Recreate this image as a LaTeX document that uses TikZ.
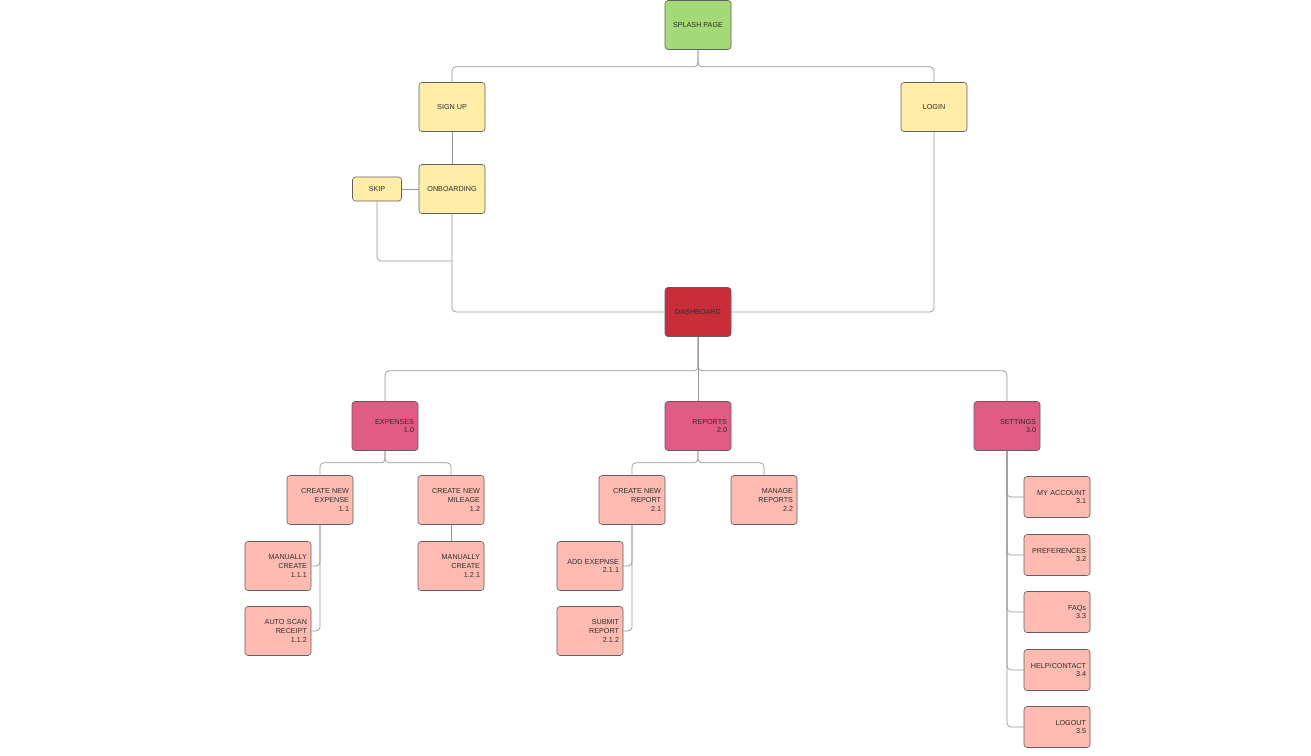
\documentclass[tikz,border=0pt]{standalone}
\usepackage{fontspec}
\setmainfont{Liberation Sans}
\usetikzlibrary{calc}
\definecolor{splashgreen}{RGB}{163,217,119}
\definecolor{pageyellow}{RGB}{255,237,168}
\definecolor{dashred}{RGB}{201,45,57}
\definecolor{sectionpink}{RGB}{224,92,132}
\definecolor{itemsalmon}{RGB}{255,187,177}
\definecolor{boxline}{RGB}{95,95,95}
\definecolor{linkgray}{RGB}{150,150,150}
\definecolor{labeltext}{RGB}{45,45,45}

\tikzset{
  box/.style={draw=boxline, line width=0.6pt, rounded corners=3pt,
              minimum width=66pt, minimum height=49pt, inner sep=0pt,
              text=labeltext, font=\fontsize{7.2}{8.7}\selectfont},
  pagebox/.style={box, fill=pageyellow, align=center},
  listbox/.style={box, text width=58pt, align=right},
  sectionbox/.style={listbox, fill=sectionpink},
  itembox/.style={listbox, fill=itemsalmon},
  settingbox/.style={itembox, minimum height=41pt},
  link/.style={draw=linkgray, line width=0.7pt, rounded corners=4pt}
}

\begin{document}
\begin{tikzpicture}[x=1pt, y=-1pt]
  \useasboundingbox (0,0) rectangle (1311,755);

  % entry pages
  \node[box, fill=splashgreen, align=center] (splash) at (698,25) {SPLASH PAGE};
  \node[pagebox] (signup) at (452,107) {SIGN UP};
  \node[pagebox] (login) at (934,107) {LOGIN};
  \node[pagebox] (onboard) at (452,189) {ONBOARDING};
  \node[pagebox, minimum width=49pt, minimum height=24pt] (skip) at (377,189) {SKIP};
  \node[box, fill=dashred, align=center] (dash) at (698,312) {DASHBOARD};
  \coordinate (skipjoin) at (452,261);

  % sections
  \node[sectionbox] (expenses) at (385,426) {EXPENSES\\1.0};
  \node[sectionbox] (reports) at (698,426) {REPORTS\\2.0};
  \node[sectionbox] (settings) at (1007,426) {SETTINGS\\3.0};

  % expenses
  \node[itembox] (newexp) at (320,500) {CREATE NEW\\EXPENSE\\1.1};
  \node[itembox] (newmil) at (451,500) {CREATE NEW\\MILEAGE\\1.2};
  \node[itembox] (manexp) at (278,566) {MANUALLY\\CREATE\\1.1.1};
  \node[itembox] (scanexp) at (278,631) {AUTO SCAN\\RECEIPT\\1.1.2};
  \node[itembox] (manmil) at (451,566) {MANUALLY\\CREATE\\1.2.1};

  % reports
  \node[itembox] (newrep) at (632,500) {CREATE NEW\\REPORT\\2.1};
  \node[itembox] (managerep) at (764,500) {MANAGE\\REPORTS\\2.2};
  \node[itembox] (addexp) at (590,566) {ADD EXEPNSE\\2.1.1};
  \node[itembox] (submitrep) at (590,631) {SUBMIT\\REPORT\\2.1.2};

  % settings
  \node[settingbox] (account) at (1057,497) {MY ACCOUNT\\3.1};
  \node[settingbox] (prefs) at (1057,555) {PREFERENCES\\3.2};
  \node[settingbox] (faqs) at (1057,612) {FAQs\\3.3};
  \node[settingbox] (help) at (1057,670) {HELP/CONTACT\\3.4};
  \node[settingbox] (logout) at (1057,727) {LOGOUT\\3.5};

  % links
  \draw[link] (splash.south) -- ++(0,17) -| (signup.north);
  \draw[link] (splash.south) -- ++(0,17) -| (login.north);
  \draw[link] (signup) -- (onboard);
  \draw[link] (skip) -- (onboard);
  \draw[link] (skip.south) |- (skipjoin);
  \draw[link] (onboard.south) |- (dash.west);
  \draw[link] (login.south) |- (dash.east);

  \draw[link] (dash.south) -- ++(0,34) -| (expenses.north);
  \draw[link] (dash.south) -- (reports.north);
  \draw[link] (dash.south) -- ++(0,34) -| (settings.north);

  \draw[link] (expenses.south) -- ++(0,12) -| (newexp.north);
  \draw[link] (expenses.south) -- ++(0,12) -| (newmil.north);
  \draw[link] (newexp.south) |- (manexp.east);
  \draw[link] (newexp.south) |- (scanexp.east);
  \draw[link] (newmil) -- (manmil);

  \draw[link] (reports.south) -- ++(0,12) -| (newrep.north);
  \draw[link] (reports.south) -- ++(0,12) -| (managerep.north);
  \draw[link] (newrep.south) |- (addexp.east);
  \draw[link] (newrep.south) |- (submitrep.east);

  \foreach \item in {account, prefs, faqs, help, logout}
    \draw[link] (settings.south) |- (\item.west);
\end{tikzpicture}
\end{document}
